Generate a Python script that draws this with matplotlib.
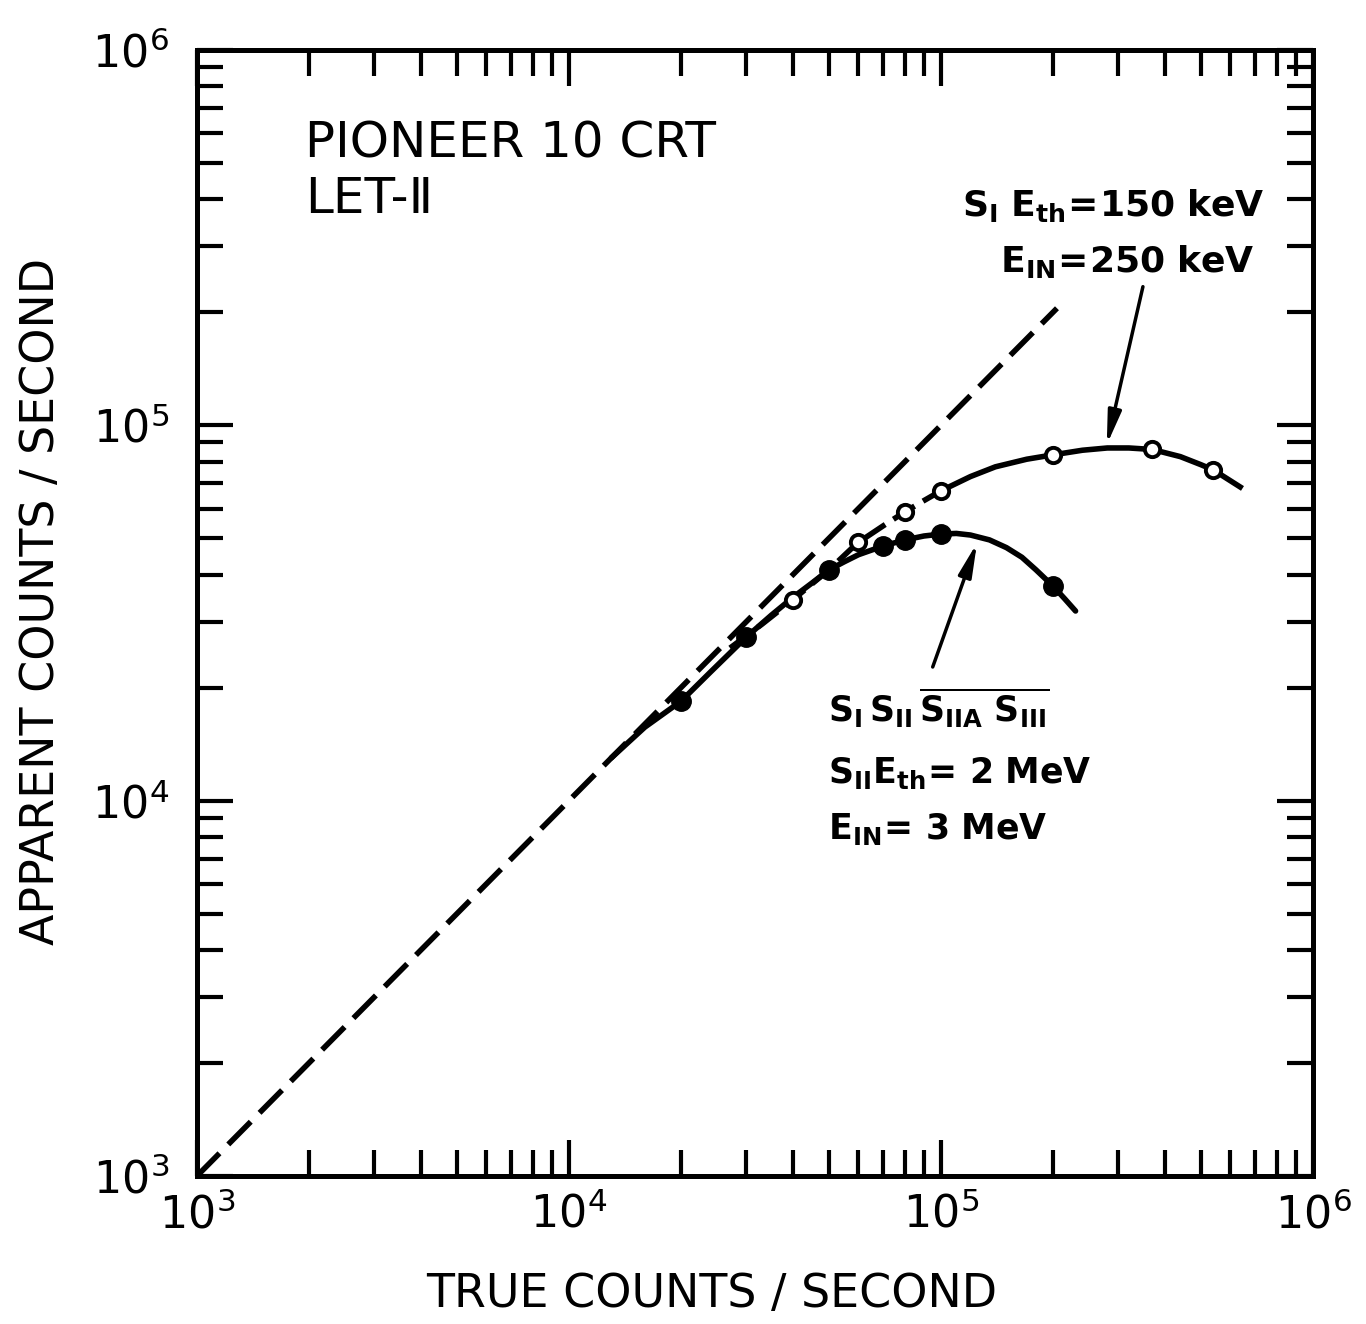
import numpy as np
import matplotlib
matplotlib.use("Agg")
import matplotlib.pyplot as plt
from matplotlib.ticker import LogLocator, FuncFormatter, NullFormatter

plt.rcParams['font.family'] = ['DejaVu Sans']
plt.rcParams['mathtext.fontset'] = 'dejavusans'
plt.rcParams['mathtext.default'] = 'bf'
plt.rcParams['lines.scale_dashes'] = False

# data (counts / second)
ident_x = [1e3, 2.05e5]
ident_y = [1e3, 2.05e5]

# filled circles: S_I S_II (S_IIA S_III)bar, 2 MeV threshold
filled_x = [2.0e4, 3.0e4, 5.0e4, 7.0e4, 8.0e4, 1.0e5, 2.0e5]
filled_y = [1.84e4, 2.73e4, 4.12e4, 4.77e4, 4.95e4, 5.13e4, 3.73e4]
filled_curve_x = [1.3e4, 1.6e4, 2.0e4, 2.4e4, 3.0e4, 3.5e4, 4.0e4, 4.5e4, 5.0e4,
                  5.5e4, 6.0e4, 7.0e4, 8.0e4, 9.0e4, 1.0e5, 1.1e5, 1.2e5,
                  1.35e5, 1.5e5, 1.65e5, 1.8e5, 2.0e5, 2.15e5, 2.3e5]
filled_curve_y = [1.3e4, 1.57e4, 1.84e4, 2.2e4, 2.73e4, 3.12e4, 3.48e4, 3.8e4,
                  4.12e4, 4.33e4, 4.52e4, 4.77e4, 4.95e4, 5.07e4, 5.13e4,
                  5.15e4, 5.1e4, 4.95e4, 4.72e4, 4.45e4, 4.12e4, 3.73e4,
                  3.45e4, 3.2e4]

# open circles: S_I, 150 keV threshold
open_x = [4.0e4, 6.0e4, 8.0e4, 1.0e5, 2.0e5, 3.7e5, 5.4e5]
open_y = [3.43e4, 4.89e4, 5.88e4, 6.69e4, 8.34e4, 8.65e4, 7.6e4]
open_curve_x = np.array([2.71e4, 3.3e4, 4.0e4, 4.5e4, 5.0e4, 5.95e4, 7.0e4, 8.0e4,
                         9.0e4, 1.0e5, 1.2e5, 1.4e5, 1.7e5, 2.0e5, 2.4e5, 2.8e5,
                         3.2e5, 3.7e5, 4.4e5, 5.0e5, 5.4e5, 6.37e5])
open_curve_y = np.array([2.55e4, 2.95e4, 3.43e4, 3.78e4, 4.12e4, 4.85e4, 5.4e4,
                         5.88e4, 6.3e4, 6.69e4, 7.3e4, 7.75e4, 8.12e4, 8.34e4,
                         8.58e4, 8.7e4, 8.7e4, 8.62e4, 8.25e4, 7.85e4, 7.6e4,
                         6.85e4])

fig = plt.figure(figsize=(13.66, 13.24), dpi=100)
ax = fig.add_axes([0.1442, 0.1118, 0.8170, 0.8505])
ax.set_xscale('log')
ax.set_yscale('log')
ax.set_xlim(1e3, 1e6)
ax.set_ylim(1e3, 1e6)

lw = 4
ax.plot(ident_x, ident_y, color='black', lw=lw, dashes=(23, 9))
ax.plot(filled_curve_x, filled_curve_y, color='black', lw=lw,
        solid_capstyle='round', solid_joinstyle='round')
lo = open_curve_x <= 1e5
hi = open_curve_x >= 1e5
ax.plot(open_curve_x[lo], open_curve_y[lo], color='black', lw=lw, dashes=(18, 7))
ax.plot(open_curve_x[hi], open_curve_y[hi], color='black', lw=lw,
        solid_joinstyle='round')

ax.plot(filled_x, filled_y, 'o', color='black', ms=14, zorder=5)
ax.plot(open_x, open_y, 'o', mfc='white', mec='black', mew=2.8, ms=11, zorder=5)

# arrows
arrow = dict(arrowstyle='-|>,head_length=1.0,head_width=0.2', color='black',
             lw=2.5, shrinkA=0, shrinkB=0, mutation_scale=20)
ax.annotate('', xy=(2.79e5, 8.87e4), xytext=(3.49e5, 2.34e5), arrowprops=arrow)
ax.annotate('', xy=(1.25e5, 4.86e4), xytext=(9.5e4, 2.27e4), arrowprops=arrow)

# text
ax.text(0.0968, 0.917, 'PIONEER 10 CRT', transform=ax.transAxes, fontsize=36,
        ha='left', va='center')
ax.text(0.0968, 0.868, 'LET-Ⅱ', transform=ax.transAxes, fontsize=36,
        ha='left', va='center')

ax.text(0.957, 0.862, r'$S_{I}\ E_{th}\!=\!150\ keV$', transform=ax.transAxes,
        fontsize=26, ha='right', va='center')
ax.text(0.948, 0.812, r'$E_{IN}\!=\!250\ keV$', transform=ax.transAxes,
        fontsize=26, ha='right', va='center')

ax.text(0.5654, 0.416, r'$S_{I}\,S_{II}\,\overline{S_{IIA}\ S_{III}}$',
        transform=ax.transAxes, fontsize=25, ha='left', va='center')
ax.text(0.5654, 0.358, r'$S_{II}E_{th}\!=\,2\ MeV$', transform=ax.transAxes,
        fontsize=25, ha='left', va='center')
ax.text(0.5654, 0.308, r'$E_{IN}\!=\,3\ MeV$', transform=ax.transAxes,
        fontsize=25, ha='left', va='center')

# axes styling
fmt = FuncFormatter(lambda v, p: r'$\mathregular{10^{%d}}$' % round(np.log10(v)))
for axis in (ax.xaxis, ax.yaxis):
    axis.set_major_locator(LogLocator(base=10, numticks=10))
    axis.set_minor_locator(LogLocator(base=10, subs=np.arange(2, 10), numticks=20))
    axis.set_major_formatter(fmt)
    axis.set_minor_formatter(NullFormatter())

ax.tick_params(which='both', direction='in', top=True, right=True, width=3,
               labelsize=32)
ax.tick_params(which='major', length=26)
ax.tick_params(which='minor', length=19)
ax.tick_params(axis='x', pad=12)
ax.tick_params(axis='y', pad=20)
for s in ax.spines.values():
    s.set_linewidth(3.6)

ax.set_xlabel('TRUE COUNTS / SECOND', fontsize=33)
ax.set_ylabel('APPARENT COUNTS / SECOND', fontsize=33)
ax.xaxis.set_label_coords(0.4615, -0.085)
ax.yaxis.set_label_coords(-0.119, 0.51)

fig.savefig('out.png', dpi=100)
